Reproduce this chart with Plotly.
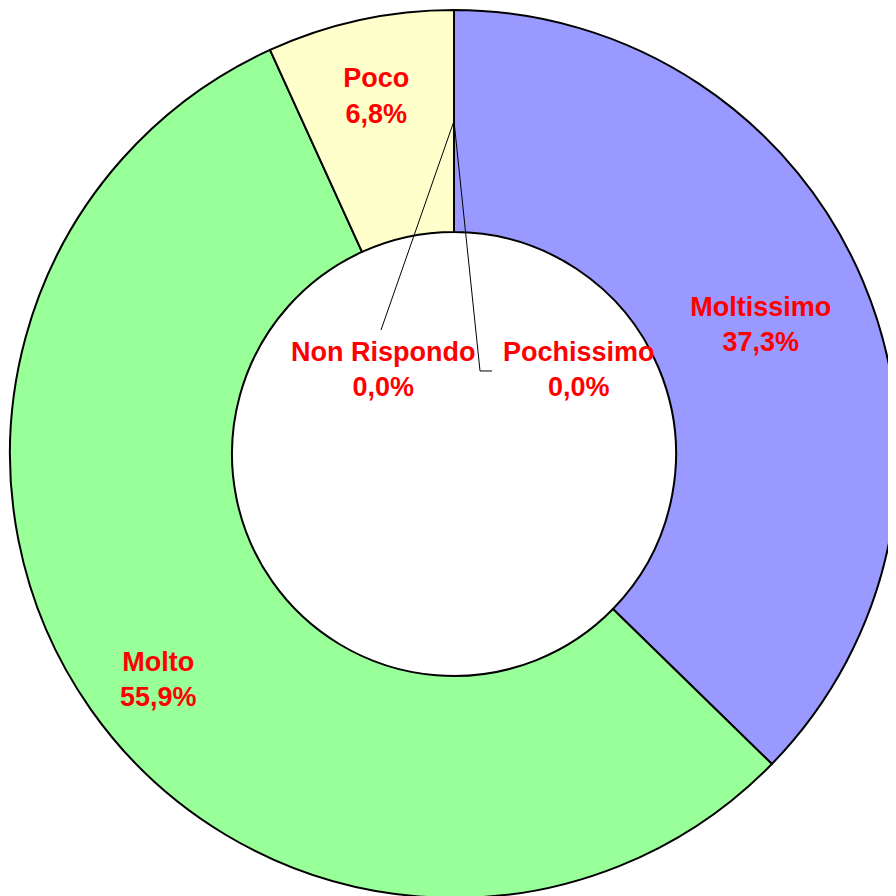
import math
import plotly.graph_objects as go

categories = ["Moltissimo", "Molto", "Poco", "Non Rispondo", "Pochissimo"]
values = [37.3, 55.9, 6.8, 0.0, 0.0]
colors = ["#9999FF", "#99FF99", "#FFFFCC", "#FFFFFF", "#FFFFFF"]

def fmt(v):
    return f"{v:.1f}%".replace(".", ",")

# labels placed outside plotly's automatic inside-text placement
manual = {"Molto": (0.1667, 0.2455, []),
          "Non Rispondo": (0.4200, 0.5946, [(0.4178, 0.6396)]),
          "Pochissimo": (0.6408, 0.5946, [(0.5293, 0.5935), (0.5428, 0.5935)])}

texts = [f"{c}<br>{fmt(v)}" if (v > 0 and c not in manual) else "" for c, v in zip(categories, values)]

HOLE = 0.5
FONT = dict(family="Liberation Sans, Arial, sans-serif", size=27, color="#FF0000")

fig = go.Figure(go.Pie(
    labels=categories,
    values=values,
    text=texts,
    textinfo="text",
    texttemplate="<b>%{text}</b>",
    textposition="inside",
    insidetextorientation="horizontal",
    hole=HOLE,
    sort=False,
    direction="clockwise",
    rotation=0,
    marker=dict(colors=colors, line=dict(color="#000000", width=2)),
    textfont=FONT,
    showlegend=False,
    hoverinfo="label+percent",
    domain=dict(x=[0, 1], y=[0, 1]),
))

total = sum(values)
annotations = []
shapes = []
cum = 0.0
for c, v in zip(categories, values):
    mid = (cum + v / 2) / total * 2 * math.pi
    cum += v
    if c in manual:
        r = 0.5 * (1 + HOLE) / 2
        sx, sy = 0.5 + r * math.sin(mid), 0.5 + r * math.cos(mid)
        lx, ly, pts = manual[c]
        annotations.append(dict(x=lx, y=ly, xref="paper", yref="paper",
                                text=f"<b>{c}<br>{fmt(v)}</b>", showarrow=False,
                                font=FONT, xanchor="center", yanchor="middle"))
        prev = (sx, sy)
        for p in pts:
            shapes.append(dict(type="line", xref="paper", yref="paper",
                               x0=prev[0], y0=prev[1], x1=p[0], y1=p[1],
                               line=dict(color="#000000", width=1)))
            prev = p

fig.update_layout(
    width=896, height=896,
    margin=dict(l=2, t=2, r=6, b=6),
    paper_bgcolor="#FFFFFF",
    plot_bgcolor="#FFFFFF",
    annotations=annotations,
    shapes=shapes,
    uniformtext=dict(minsize=27, mode="show"),
)

fig.write_html("out.html")
